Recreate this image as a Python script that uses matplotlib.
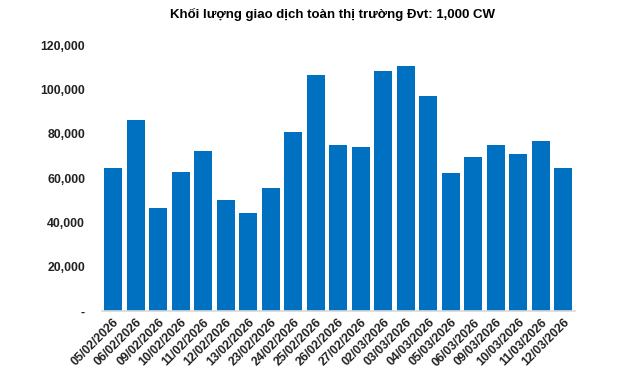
import matplotlib
matplotlib.use('Agg')
import matplotlib.pyplot as plt
from matplotlib.ticker import FuncFormatter

plt.rcParams['font.family'] = ['Liberation Sans', 'DejaVu Sans']

# trading days
dates = ["05/02/2026", "06/02/2026", "09/02/2026", "10/02/2026", "11/02/2026",
         "12/02/2026", "13/02/2026", "23/02/2026", "24/02/2026", "25/02/2026",
         "26/02/2026", "27/02/2026", "02/03/2026", "03/03/2026", "04/03/2026",
         "05/03/2026", "06/03/2026", "09/03/2026", "10/03/2026", "11/03/2026",
         "12/03/2026"]

# volume, unit 1,000 CW
volume = [64400, 86000, 46400, 62600, 72100, 50000, 44100, 55400, 80600, 106300,
          74800, 73900, 108100, 110400, 96800, 62200, 69400, 74800, 70700, 76600,
          64400]

y_ticks = [0, 20000, 40000, 60000, 80000, 100000, 120000]


def fmt(v, pos):
    if v == 0:
        return "-"
    return f"{int(v):,}"


fig = plt.figure(figsize=(6.4, 3.72), dpi=100)
ax = fig.add_axes([0.159, 0.164, 0.739, 0.715])

x = range(len(dates))
ax.bar(x, volume, width=0.8, color="#0070C0")

ax.set_xlim(-0.5, len(dates) - 0.5)
ax.set_ylim(0, 120000)
ax.set_yticks(y_ticks)
ax.yaxis.set_major_formatter(FuncFormatter(fmt))
ax.set_xticks(list(x))
ax.set_xticklabels(dates, rotation=45, ha="right", rotation_mode="anchor")

for lab in ax.get_xticklabels() + ax.get_yticklabels():
    lab.set_fontsize(8.8)
    lab.set_fontweight("bold")
    lab.set_color("#222222")

for s in ["top", "right", "left"]:
    ax.spines[s].set_visible(False)
ax.spines["bottom"].set_color("#d9d9d9")
ax.spines["bottom"].set_linewidth(1.2)
ax.tick_params(axis="both", length=0)
ax.tick_params(axis="y", pad=12)
ax.tick_params(axis="x", pad=4)

fig.text(0.519, 0.962, "Khối lượng giao dịch toàn thị trường Đvt: 1,000 CW",
         ha="center", va="center", fontsize=9.5, fontweight="bold")

fig.savefig("out.png", dpi=100)
